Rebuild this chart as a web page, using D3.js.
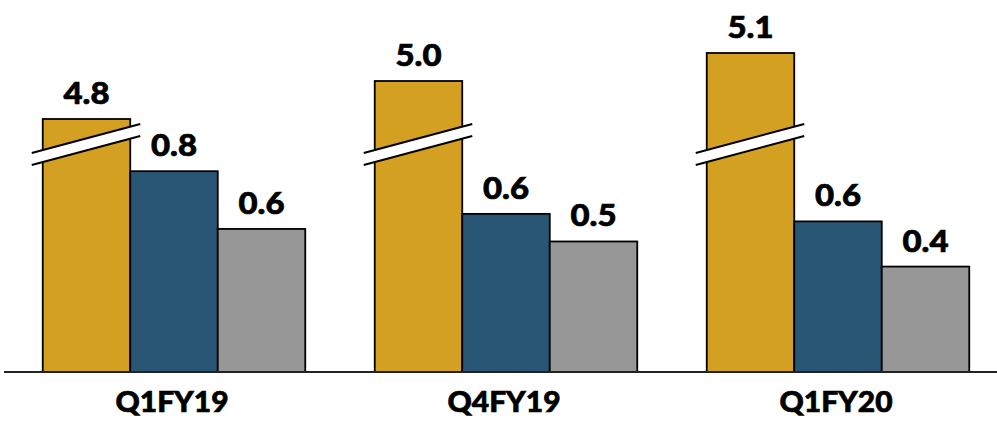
<!DOCTYPE html>
<html><head><meta charset="utf-8">
<script src="https://cdn.jsdelivr.net/npm/d3@7"></script>
<style>html,body{margin:0;padding:0;background:#fff;}svg{display:block;}</style>
</head><body>
<svg id="c" width="997" height="421"></svg>
<script>
const categories = ["Q1FY19", "Q4FY19", "Q1FY20"];
const series = ["gold", "blue", "gray"];
const goldValues = [4.80, 4.99, 5.13];
const blueValues = [0.80, 0.63, 0.60];
const grayValues = [0.57, 0.52, 0.42];
const colors = {gold: "#D4A021", blue: "#2A5676", gray: "#979797"};

const svg = d3.select("#c");
const baseY = 372;
const x0 = d3.scaleBand().domain(categories).range([8, 1004]).paddingInner(0).paddingOuter(0);
const x1 = d3.scaleBand().domain(series).range([0, x0.bandwidth()]).paddingInner(0).paddingOuter(0.397);
const y = d3.scaleLinear().domain([0, 1]).range([baseY, 121]);
const yBreak = d3.scaleLinear().domain([4.8, 5.3]).range([119, 19]);
const fmt = d3.format(".1f");

const rows = [];
categories.forEach((c, i) => {
  rows.push({cat: c, s: "gold", v: goldValues[i], top: yBreak(goldValues[i])});
  rows.push({cat: c, s: "blue", v: blueValues[i], top: y(blueValues[i])});
  rows.push({cat: c, s: "gray", v: grayValues[i], top: y(grayValues[i])});
});

const g = svg.append("g");
g.selectAll("rect.bar").data(rows).join("rect")
  .attr("class", "bar")
  .attr("x", d => x0(d.cat) + x1(d.s))
  .attr("y", d => d.top)
  .attr("width", x1.bandwidth())
  .attr("height", d => baseY - d.top)
  .attr("fill", d => colors[d.s])
  .attr("stroke", "#000")
  .attr("stroke-width", 1.8);

// axis break marks on gold bars
rows.filter(d => d.s === "gold").forEach(d => {
  const xa = x0(d.cat) + x1(d.s) - 11;
  const xb = x0(d.cat) + x1(d.s) + x1.bandwidth() + 10;
  const yaU = 153, ybU = 124, gap = 12;
  g.append("path")
    .attr("d", `M${xa},${yaU}L${xb},${ybU}L${xb},${ybU+gap}L${xa},${yaU+gap}Z`)
    .attr("fill", "#fff").attr("stroke", "none");
  g.append("line").attr("x1", xa).attr("y1", yaU).attr("x2", xb).attr("y2", ybU)
    .attr("stroke", "#000").attr("stroke-width", 2);
  g.append("line").attr("x1", xa).attr("y1", yaU+gap).attr("x2", xb).attr("y2", ybU+gap)
    .attr("stroke", "#000").attr("stroke-width", 2);
});

// baseline
svg.append("line").attr("x1", 4).attr("x2", 997).attr("y1", baseY).attr("y2", baseY)
  .attr("stroke", "#222").attr("stroke-width", 1.8);

// value labels
g.selectAll("text.val").data(rows).join("text")
  .attr("class", "val")
  .attr("x", d => x0(d.cat) + x1(d.s) + x1.bandwidth() / 2)
  .attr("y", d => d.top - 15)
  .attr("text-anchor", "middle")
  .attr("font-family", "Lato, 'Open Sans', sans-serif")
  .attr("font-weight", "900")
  .attr("font-size", 31)
  .attr("textLength", 46)
  .attr("lengthAdjust", "spacingAndGlyphs")
  .attr("fill", "#000")
  .attr("stroke", "#000")
  .attr("stroke-width", 0.7)
  .text(d => fmt(d.v));

// category labels
svg.selectAll("text.cat").data(categories).join("text")
  .attr("class", "cat")
  .attr("x", d => x0(d) + x0.bandwidth() / 2 - 2)
  .attr("y", 412)
  .attr("text-anchor", "middle")
  .attr("font-family", "Lato, 'Open Sans', sans-serif")
  .attr("font-weight", "900")
  .attr("font-size", 29)
  .attr("textLength", 113)
  .attr("lengthAdjust", "spacingAndGlyphs")
  .attr("fill", "#000")
  .attr("stroke", "#000")
  .attr("stroke-width", 0.7)
  .text(d => d);
</script>
</body></html>
